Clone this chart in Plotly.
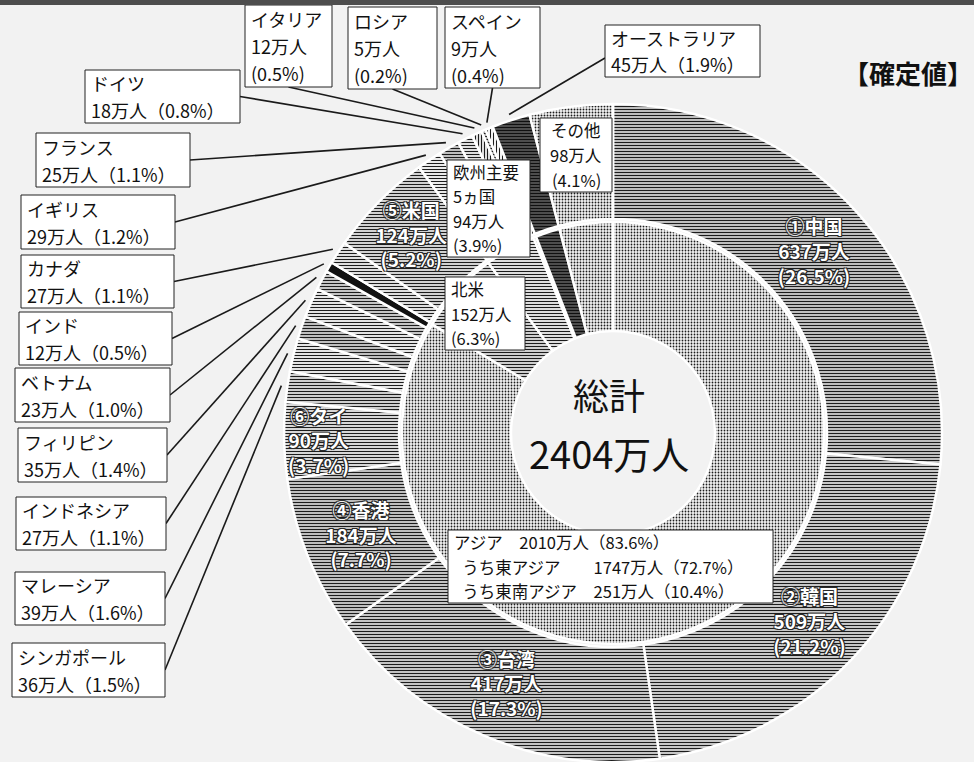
import math
import plotly.graph_objects as go

# ---------------- data (単位: 万人 / %) ----------------
countries = ["中国", "韓国", "台湾", "香港", "タイ", "シンガポール", "マレーシア",
             "インドネシア", "フィリピン", "ベトナム", "インド", "カナダ", "米国",
             "イギリス", "フランス", "ドイツ", "イタリア", "ロシア", "スペイン",
             "オーストラリア", "その他"]
visitors = [637, 509, 417, 184, 90, 36, 39, 27, 35, 23, 12, 27, 124,
            29, 25, 18, 12, 5, 9, 45, 98]
shares = [26.5, 21.2, 17.3, 7.7, 3.7, 1.5, 1.6, 1.1, 1.4, 1.0, 0.5, 1.1, 5.2,
          1.2, 1.1, 0.8, 0.5, 0.2, 0.4, 1.9, 4.1]

regions = ["アジア", "北米", "欧州主要5ヵ国", "ロシア", "オーストラリア", "その他"]
region_visitors = [2010, 152, 94, 5, 45, 98]
region_shares = [83.6, 6.3, 3.9, 0.2, 1.9, 4.1]

asia_sub = ["うち東アジア", "うち東南アジア"]
asia_sub_visitors = [1747, 251]
asia_sub_shares = [72.7, 10.4]

total_label = "総計"
total_visitors = 2404
status_label = "【確定値】"

# ---------------- page geometry (pixels, origin top-left) ----------------
W, H = 974, 762
CX, CY = 613, 433
R_OUT = 329          # outer edge of country ring
R_OUT_HOLE = 214     # inner edge of country ring
R_IN = 211           # outer edge of region ring
R_IN_HOLE = 102      # centre hole

FONT = "Noto Sans CJK JP, Noto Sans, sans-serif"
INK = "#111111"


def domain(r):
    return dict(x=[(CX - r) / W, (CX + r) / W],
                y=[(H - CY - r) / H, (H - CY + r) / H])


# ---------------- slice styling ----------------
def pat(shape, solid, fg="#1c1c1c", bg="#f3f3f3"):
    return dict(shape=shape, solidity=solid, fg=fg, bg=bg)


country_style = {
    "中国": pat("-", 0.50), "韓国": pat("-", 0.47), "台湾": pat("-", 0.48),
    "香港": pat("-", 0.50), "タイ": pat("-", 0.42),
    "シンガポール": pat("-", 0.45), "マレーシア": pat("-", 0.38),
    "インドネシア": pat("-", 0.50), "フィリピン": pat("-", 0.38),
    "ベトナム": pat("-", 0.48), "インド": pat("", 0, fg="#111111", bg="#111111"),
    "カナダ": pat("-", 0.40), "米国": pat("-", 0.44),
    "イギリス": pat("-", 0.36), "フランス": pat("-", 0.50),
    "ドイツ": pat("-", 0.40), "イタリア": pat("|", 0.40),
    "ロシア": pat("-", 0.55), "スペイン": pat("|", 0.35),
    "オーストラリア": pat("-", 0.55, fg="#101010", bg="#6a6a6a"),
    "その他": pat(".", 0.30),
}
region_style = {
    "アジア": pat(".", 0.28), "北米": pat("-", 0.45), "欧州主要5ヵ国": pat("-", 0.40),
    "ロシア": pat("-", 0.55),
    "オーストラリア": pat("-", 0.55, fg="#101010", bg="#6a6a6a"),
    "その他": pat(".", 0.30),
}


def marker_for(names, style):
    st = [style[n] for n in names]
    return dict(
        colors=[s["bg"] if s["shape"] == "" else "#9a9a9a" for s in st],
        line=dict(color="#ffffff", width=2.5),
        pattern=dict(shape=[s["shape"] for s in st],
                     solidity=[s["solidity"] if s["shape"] else 0.5 for s in st],
                     fgcolor=[s["fg"] for s in st],
                     bgcolor=[s["bg"] for s in st],
                     size=3, fillmode="replace"),
    )


# ranks (①..⑥) among named countries
circled = "①②③④⑤⑥"
ranked = sorted([i for i, c in enumerate(countries) if c != "その他"],
                key=lambda i: -visitors[i])
rank_of = {i: k for k, i in enumerate(ranked[:6])}
slice_text = []
for i, c in enumerate(countries):
    if i in rank_of:
        slice_text.append(f"{circled[rank_of[i]]}{c}<br>{visitors[i]}万人<br>({shares[i]}%)")
    else:
        slice_text.append("")

fig = go.Figure()

# region ring (inner)
fig.add_trace(go.Pie(
    labels=regions, values=region_visitors, sort=False, direction="clockwise",
    rotation=0, hole=R_IN_HOLE / R_IN, domain=domain(R_IN),
    marker=marker_for(regions, region_style),
    textinfo="none", hoverinfo="skip", showlegend=False,
))

# country ring (outer)
fig.add_trace(go.Pie(
    labels=countries, values=visitors, sort=False, direction="clockwise",
    rotation=0, hole=R_OUT_HOLE / R_OUT, domain=domain(R_OUT),
    marker=marker_for(countries, country_style),
    text=slice_text, textinfo="text", textposition="inside",
    insidetextorientation="horizontal",
    insidetextfont=dict(family=FONT, size=19, color="#ffffff", weight="bold",
                        shadow="-1px -1px 0 #2a2a2a, 1px -1px 0 #2a2a2a, "
                               "-1px 1px 0 #2a2a2a, 1px 1px 0 #2a2a2a"),
    hoverinfo="skip", showlegend=False,
))

shapes = []
annotations = []


def text_box(x0, x1, y0, y1, lines, size, align="left"):
    """White framed box with its lines spread evenly over the height."""
    shapes.append(dict(type="rect", xref="x", yref="y", x0=x0, x1=x1, y0=y0, y1=y1,
                       fillcolor="#ffffff", line=dict(color="#222222", width=1),
                       layer="above"))
    n = len(lines)
    for k, line in enumerate(lines):
        yc = y0 + (y1 - y0) * (2 * k + 1) / (2 * n)
        if align == "left":
            annotations.append(dict(x=x0 + 4, y=yc, xref="x", yref="y", text=line,
                                    xanchor="left", yanchor="middle", showarrow=False,
                                    font=dict(family=FONT, size=size, color=INK)))
        else:
            annotations.append(dict(x=(x0 + x1) / 2, y=yc, xref="x", yref="y", text=line,
                                    xanchor="center", yanchor="middle", showarrow=False,
                                    font=dict(family=FONT, size=size, color=INK)))


# ---------------- callout boxes with leader lines ----------------
# name: (x0, x1, y0, y1, side where the leader leaves the box)
callouts = {
    "イタリア": (245, 332, 5, 87, "b"),
    "ロシア": (348, 437, 7, 89, "b"),
    "スペイン": (445, 540, 7, 88, "b"),
    "オーストラリア": (605, 760, 25, 77, "l"),
    "ドイツ": (85, 240, 70, 123, "r"),
    "フランス": (36, 190, 133, 187, "r"),
    "イギリス": (21, 175, 195, 249, "r"),
    "カナダ": (21, 174, 255, 308, "r"),
    "インド": (19, 172, 312, 365, "r"),
    "ベトナム": (15, 170, 368, 422, "r"),
    "フィリピン": (18, 167, 428, 482, "r"),
    "インドネシア": (16, 166, 497, 550, "r"),
    "マレーシア": (15, 165, 572, 625, "r"),
    "シンガポール": (12, 165, 643, 697, "r"),
}

tot = sum(visitors)
mid_angle = {}
acc = 0
for c, v in zip(countries, visitors):
    mid_angle[c] = (acc + v / 2) / tot * 2 * math.pi
    acc += v

lx, ly = [], []
for name, (x0, x1, y0, y1, side) in callouts.items():
    i = countries.index(name)
    if side == "b":
        lines = [name, f"{visitors[i]}万人", f"({shares[i]}%)"]
    else:
        lines = [name, f"{visitors[i]}万人（{shares[i]}%）"]
    text_box(x0, x1, y0, y1, lines, 18)
    if side == "r":
        sx, sy = x1, (y0 + y1) / 2
    elif side == "l":
        sx, sy = x0, (y0 + y1) / 2 + 7
    else:
        sx, sy = (x0 + x1) / 2, y1
    a = mid_angle[name]
    r = R_OUT + 6
    lx += [sx, CX + r * math.sin(a), None]
    ly += [sy, CY - r * math.cos(a), None]

fig.add_trace(go.Scatter(
    x=lx, y=ly, mode="lines", line=dict(color="#1a1a1a", width=1.6),
    hoverinfo="skip", showlegend=False, xaxis="x", yaxis="y",
))

# boxes placed over the rings
oth = countries.index("その他")
text_box(540, 612, 118, 192,
         [countries[oth], f"{visitors[oth]}万人", f"({shares[oth]}%)"], 16.5, align="center")

eu = regions.index("欧州主要5ヵ国")
text_box(447, 530, 160, 257,
         ["欧州主要", "5ヵ国", f"{region_visitors[eu]}万人", f"({region_shares[eu]}%)"], 16.5)

na = regions.index("北米")
text_box(445, 525, 277, 350,
         [regions[na], f"{region_visitors[na]}万人", f"({region_shares[na]}%)"], 16.5)

text_box(448, 773, 530, 603, [
    f"{regions[0]}\u3000{region_visitors[0]}万人（{region_shares[0]}%）",
    f"\u2002{asia_sub[0]}\u3000\u3000{asia_sub_visitors[0]}万人（{asia_sub_shares[0]}%）",
    f"\u2002{asia_sub[1]}\u3000{asia_sub_visitors[1]}万人（{asia_sub_shares[1]}%）",
], 16.5)

# centre total
annotations.append(dict(
    x=609, y=394, xref="x", yref="y", showarrow=False, text=total_label,
    font=dict(family=FONT, size=36, color=INK)))
annotations.append(dict(
    x=609, y=452, xref="x", yref="y", showarrow=False, text=f"{total_visitors}万人",
    font=dict(family=FONT, size=38, color=INK)))

annotations.append(dict(
    x=908, y=72, xref="x", yref="y", showarrow=False, text=status_label,
    font=dict(family=FONT, size=26, color=INK, weight="bold")))

# dark rule along the top edge
shapes.append(dict(type="rect", xref="paper", yref="paper", x0=0, x1=1,
                   y0=1 - 5 / H, y1=1, fillcolor="#4d4d4d", line=dict(width=0),
                   layer="above"))

fig.update_layout(
    width=W, height=H, autosize=False,
    margin=dict(l=0, r=0, t=0, b=0),
    paper_bgcolor="#f2f2f2", plot_bgcolor="rgba(0,0,0,0)",
    xaxis=dict(range=[0, W], visible=False, fixedrange=True, domain=[0, 1]),
    yaxis=dict(range=[H, 0], visible=False, fixedrange=True, domain=[0, 1]),
    uniformtext=dict(minsize=19, mode="show"),
    annotations=annotations,
    shapes=shapes,
    showlegend=False,
)

fig.write_html("out.html", include_plotlyjs=True, config={"displayModeBar": False})
